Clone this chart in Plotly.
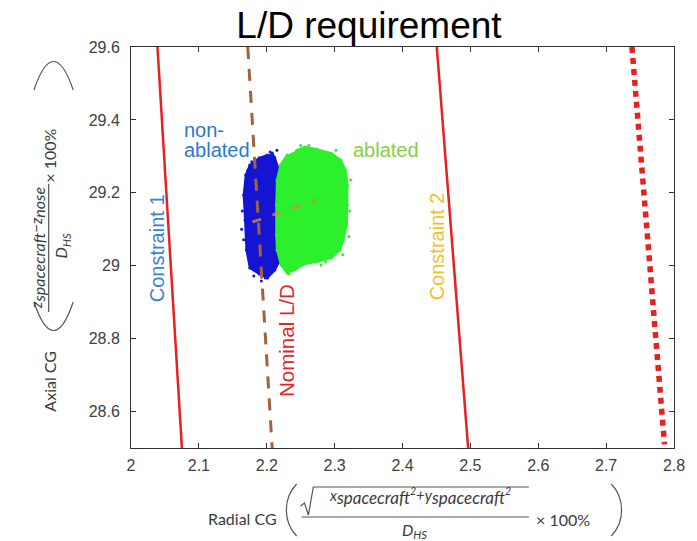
import plotly.graph_objects as go

# ---------------- data ----------------
x_ticks = [2.0, 2.1, 2.2, 2.3, 2.4, 2.5, 2.6, 2.7, 2.8]
x_tick_labels = ["2", "2.1", "2.2", "2.3", "2.4", "2.5", "2.6", "2.7", "2.8"]
y_ticks = [28.6, 28.8, 29.0, 29.2, 29.4, 29.6]
y_tick_labels = ["28.6", "28.8", "29", "29.2", "29.4", "29.6"]

constraint1_x = [2.039, 2.075]
constraint1_y = [29.6, 28.5]
nominal_x = [2.172, 2.208]
nominal_y = [29.6, 28.5]
constraint2_x = [2.4505, 2.4967]
constraint2_y = [29.6, 28.5]
limit_x = [2.738, 2.786]
limit_y = [29.6, 28.51]
inner_x = [2.179, 2.273]
inner_y = [29.120, 29.180]

# outline of the non-ablated (blue) cloud
blue_x = [2.208, 2.212, 2.218, 2.221, 2.221, 2.220, 2.218, 2.212, 2.201, 2.189,
          2.175, 2.170, 2.168, 2.166, 2.169, 2.175, 2.189, 2.201]
blue_y = [29.309, 29.296, 29.263, 29.208, 29.125, 29.043, 29.010, 28.988, 28.966, 28.977,
          28.994, 29.043, 29.125, 29.194, 29.249, 29.276, 29.296, 29.304]
blue_stray_x = [2.198, 2.166, 2.215, 2.181, 2.172, 2.164, 2.192, 2.205, 2.163, 2.178]
blue_stray_y = [28.966, 29.071, 29.317, 28.972, 29.262, 29.150, 28.958, 29.312, 29.100, 29.285]

# outline of the ablated (green) cloud
green_x = [2.244, 2.256, 2.273, 2.295, 2.309, 2.316, 2.319, 2.319, 2.318, 2.313, 2.308,
           2.295, 2.273, 2.256, 2.241, 2.230, 2.221, 2.215, 2.214, 2.214, 2.215, 2.220, 2.230]
green_y = [29.317, 29.326, 29.320, 29.309, 29.290, 29.263, 29.221, 29.167, 29.112, 29.071, 29.043,
           29.021, 29.010, 29.005, 28.988, 28.980, 29.002, 29.043, 29.084, 29.167, 29.235, 29.276, 29.304]
green_stray_x = [2.2325, 2.3235, 2.302, 2.244, 2.287, 2.322, 2.262, 2.312, 2.250, 2.321, 2.280]
green_stray_y = [28.977, 29.235, 29.317, 28.994, 29.010, 29.150, 29.330, 29.030, 29.330, 29.080, 29.002]

BLUE = "#1414d2"
GREEN = "#2cf02c"
RED = "#e8201e"
BROWN = "#a0633e"

fig = go.Figure()

fig.add_trace(go.Scatter(x=blue_x, y=blue_y, mode="lines+markers", fill="toself",
                         fillcolor=BLUE, line=dict(color=BLUE, width=2),
                         marker=dict(size=3, color=BLUE), hoverinfo="skip"))
fig.add_trace(go.Scatter(x=blue_stray_x, y=blue_stray_y, mode="markers",
                         marker=dict(size=3, color=BLUE), hoverinfo="skip"))
fig.add_trace(go.Scatter(x=green_x, y=green_y, mode="lines+markers", fill="toself",
                         fillcolor=GREEN, line=dict(color=GREEN, width=2),
                         marker=dict(size=3, color=GREEN), hoverinfo="skip"))
fig.add_trace(go.Scatter(x=green_stray_x, y=green_stray_y, mode="markers",
                         marker=dict(size=3, color=GREEN), hoverinfo="skip"))

fig.add_trace(go.Scatter(x=constraint1_x, y=constraint1_y, mode="lines",
                         line=dict(color=RED, width=2.5)))
fig.add_trace(go.Scatter(x=constraint2_x, y=constraint2_y, mode="lines",
                         line=dict(color=RED, width=2.5)))
fig.add_trace(go.Scatter(x=limit_x, y=limit_y, mode="lines",
                         line=dict(color=RED, width=5.5, dash="6px,5px")))
fig.add_trace(go.Scatter(x=nominal_x, y=nominal_y, mode="lines",
                         line=dict(color=BROWN, width=3, dash="12px,10px")))
fig.add_trace(go.Scatter(x=inner_x, y=inner_y, mode="lines", opacity=0.8,
                         line=dict(color="#d08a4a", width=3, dash="9px,12px")))

# ---------------- layout helpers (pixel -> paper) ----------------
L, R, T, B = 131, 685, 47, 448


def px(x):
    return (x - L) / (R - L)


def py(y):
    return (B - y) / (B - T)


TFONT = "Liberation Sans, Arial, sans-serif"
AFONT = "Lato, Liberation Sans, sans-serif"
ACOL = "#3a3a3a"


def sub(t, s):
    return f"<sub><span style='font-size:{s}px'>{t}</span></sub>"


ann = []
# in-plot labels
ann.append(dict(x=2.0751, y=29.372, text="non-", xanchor="left", yanchor="middle",
                font=dict(family=TFONT, size=20, color="#2a78d0")))
ann.append(dict(x=2.0751, y=29.318, text="ablated", xanchor="left", yanchor="middle",
                font=dict(family=TFONT, size=20, color="#2a78d0")))
ann.append(dict(x=2.3235, y=29.318, text="ablated", xanchor="left", yanchor="middle",
                font=dict(family=TFONT, size=20, color="#86cf44")))
ann.append(dict(x=2.0375, y=29.049, text="Constraint 1", textangle=-90,
                font=dict(family=TFONT, size=20, color="#3c7fd8")))
ann.append(dict(x=2.4513, y=29.054, text="Constraint 2", textangle=-90,
                font=dict(family=TFONT, size=20, color="#f2c12e")))
ann.append(dict(x=2.2282, y=28.796, text="Nominal L/D", textangle=-90,
                font=dict(family=TFONT, size=20.5, color="#e0282a")))
for a in ann:
    a.update(xref="x", yref="y", showarrow=False)

# x-axis title pieces
xt = [
    dict(x=px(245), y=py(518), text="Radial CG", size=16),
    dict(x=px(426), y=py(496),
         text="<i>x" + sub("spacecraft", 17) + "<sup>2</sup>+y" + sub("spacecraft", 17) + "<sup>2</sup></i>",
         size=15),
    dict(x=px(420), y=py(530), text="<i>D<sub>HS</sub></i>", size=16),
    dict(x=px(572), y=py(519), text="× 100%", size=16),
]
for a in xt:
    ann.append(dict(x=a["x"], y=a["y"], text=a["text"], xref="paper", yref="paper",
                    showarrow=False, xanchor="center", yanchor="middle",
                    font=dict(family=AFONT, size=a["size"], color=ACOL)))

# y-axis title pieces
yt = [
    dict(x=px(47), y=py(381), text="Axial CG", size=16),
    dict(x=px(35), y=py(248),
         text="<i>z" + sub("spacecraft", 16) + "−z" + sub("nose", 16) + "</i>", size=15),
    dict(x=px(61), y=py(246), text="<i>D<sub>HS</sub></i>", size=16),
    dict(x=px(48), y=py(156), text="× 100%", size=16),
]
for a in yt:
    ann.append(dict(x=a["x"], y=a["y"], text=a["text"], xref="paper", yref="paper",
                    showarrow=False, xanchor="center", yanchor="middle", textangle=-90,
                    font=dict(family=AFONT, size=a["size"], color=ACOL)))


def P(x, y):
    return f"{px(x):.5f},{py(y):.5f}"


line_style = dict(color="#555555", width=1.2)
shapes = [
    # x-title fraction bar, radical, parentheses
    dict(type="line", x0=px(305), x1=px(537), y0=py(517), y1=py(517)),
    dict(type="path", path=f"M{P(304,506)} L{P(308,503)} L{P(312,515)} L{P(317,487)} L{P(537,487)}"),
    dict(type="path", path=f"M{P(300,484)} C{P(286,498)} {P(286,522)} {P(300,536)}"),
    dict(type="path", path=f"M{P(621,484)} C{P(635,498)} {P(635,522)} {P(621,536)}"),
    # y-title fraction bar and parentheses
    dict(type="line", x0=px(47), x1=px(47), y0=py(184), y1=py(312)),
    dict(type="path", path=f"M{P(32,90)} C{P(45,52)} {P(59,52)} {P(72,90)}"),
    dict(type="path", path=f"M{P(32,302)} C{P(45,340)} {P(59,340)} {P(72,302)}"),
]
for s in shapes:
    s.update(xref="paper", yref="paper", line=line_style)

axis_common = dict(showline=True, linecolor="#333333", linewidth=1, mirror="ticks",
                   ticks="inside", ticklen=5, tickcolor="#333333", showgrid=False,
                   zeroline=False, tickfont=dict(family=TFONT, size=16, color="#404040"))

fig.update_layout(
    width=697, height=541,
    margin=dict(l=L, r=697 - R, t=T, b=541 - B),
    paper_bgcolor="white", plot_bgcolor="white",
    showlegend=False,
    title=dict(text="L/D requirement", x=369 / 697, xanchor="center",
               y=1 - 25 / 541, yanchor="middle",
               font=dict(family=TFONT, size=37, color="black")),
    xaxis=dict(range=[2.0, 2.8], tickvals=x_ticks, ticktext=x_tick_labels,
               ticklabelstandoff=3, **axis_common),
    yaxis=dict(range=[28.5, 29.6], tickvals=y_ticks, ticktext=y_tick_labels,
               ticklabelstandoff=7, **axis_common),
    annotations=ann,
    shapes=shapes,
)

fig.write_html("out.html")
